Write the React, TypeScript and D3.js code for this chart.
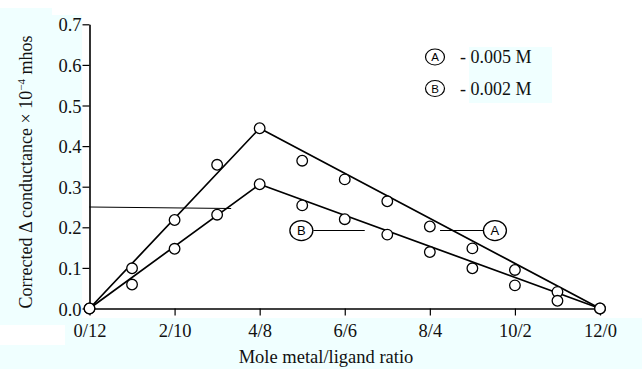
import React, { useEffect, useRef } from 'react';
import * as d3 from 'd3';

// mole of metal in the 12-mole mixture (0..12) and its ratio label
const metalMoles = [0, 1, 2, 3, 4, 5, 6, 7, 8, 9, 10, 11, 12];
const ratioTicks = [0, 2, 4, 6, 8, 10, 12];
const ratioLabels = ['0/12', '2/10', '4/8', '6/6', '8/4', '10/2', '12/0'];
const yTicks = [0, 0.1, 0.2, 0.3, 0.4, 0.5, 0.6, 0.7];

// corrected conductance (x 10^-4 mhos)
const seriesA = [0, 0.099, 0.218, 0.354, 0.444, 0.364, 0.318, 0.264, 0.202, 0.148, 0.095, 0.041, 0];
const seriesB = [0, 0.059, 0.147, 0.231, 0.306, 0.254, 0.22, 0.182, 0.139, 0.099, 0.057, 0.019, 0];

// straight fitted lines through the break point
const fitA: [number, number][] = [[0, 0], [4, 0.444], [12, 0]];
const fitB: [number, number][] = [[0, 0], [4, 0.306], [12, 0]];

// stray horizontal rule in the scan
const strayRule = { y: 0.25, x0: 0, x1: 3.33 };

// curve callouts: label position and leader end
const callouts = [
  { key: 'B', x: 4.98, y: 0.192, lx0: 5.26, lx1: 6.47 },
  { key: 'A', x: 9.53, y: 0.192, lx0: 8.24, lx1: 9.25 },
];

const legendItems = [
  { key: 'A', label: '0.005 M' },
  { key: 'B', label: '0.002 M' },
];

const W = 642;
const H = 369;
const BG = '#f0ffff';
const serif = '"Liberation Serif", "DejaVu Serif", serif';
const sans = '"Liberation Sans", Arial, sans-serif';

export default function App() {
  const ref = useRef<SVGSVGElement | null>(null);

  useEffect(() => {
    if (!ref.current) return;
    const svg = d3.select(ref.current);
    svg.selectAll('*').remove();

    const x = d3.scaleLinear().domain([0, 12]).range([89.5, 600]);
    const y = d3.scaleLinear().domain([0, 0.7]).range([308.5, 24.3]);

    svg.append('rect').attr('width', W).attr('height', H).attr('fill', '#fff');

    // pale cyan patches behind the text (from the scan)
    const patches = [
      [0, 8, 52, 317],
      [52, 15, 30, 305],
      [0, 318, 642, 51],
      [469, 47, 83, 56],
    ];
    patches.forEach(([px, py, pw, ph]) =>
      svg.append('rect').attr('x', px).attr('y', py).attr('width', pw).attr('height', ph).attr('fill', BG)
    );
    svg.append('rect').attr('x', 0).attr('y', 325).attr('width', 65).attr('height', 20).attr('fill', '#fff');

    // axes
    const yAxis = svg.append('g')
      .attr('transform', `translate(${x(0)},0)`)
      .call(d3.axisLeft(y).tickValues(yTicks).tickSize(7).tickSizeOuter(0).tickPadding(1)
        .tickFormat(d => d3.format('.1f')(Number(d))));
    yAxis.select('.domain').attr('stroke', '#000').attr('stroke-width', 1.6);
    yAxis.selectAll('.tick line').attr('stroke', '#000').attr('stroke-width', 1.2);
    yAxis.selectAll('.tick text')
      .attr('font-family', serif).attr('font-size', 18.5).attr('fill', '#111').attr('dy', '0.36em');

    const xAxis = svg.append('g')
      .attr('transform', `translate(0,${y(0)})`)
      .call(d3.axisBottom(x).tickValues(ratioTicks).tickSize(7).tickSizeOuter(0).tickPadding(8)
        .tickFormat((d, i) => ratioLabels[i]));
    xAxis.select('.domain').attr('stroke', '#000').attr('stroke-width', 1.4);
    xAxis.selectAll('.tick line').attr('stroke', '#000').attr('stroke-width', 1.2);
    xAxis.selectAll('.tick text')
      .attr('font-family', serif).attr('font-size', 18.5).attr('fill', '#111');

    // axis titles
    svg.append('text')
      .attr('x', 326).attr('y', 363)
      .attr('text-anchor', 'middle')
      .attr('font-family', serif).attr('font-size', 18.5).attr('fill', '#111')
      .text('Mole metal/ligand ratio');

    const yt = svg.append('text')
      .attr('transform', 'translate(32,172) rotate(-90)')
      .attr('text-anchor', 'middle')
      .attr('font-family', serif).attr('font-size', 18).attr('fill', '#111');
    yt.append('tspan').text('Corrected Δ conductance × 10');
    yt.append('tspan').attr('dy', -7).attr('font-size', 11).text('−4');
    yt.append('tspan').attr('dy', 7).text(' mhos');

    // stray rule
    svg.append('line')
      .attr('x1', x(strayRule.x0)).attr('x2', x(strayRule.x1))
      .attr('y1', y(strayRule.y)).attr('y2', y(strayRule.y) + 1.5)
      .attr('stroke', '#000').attr('stroke-width', 1);

    // fitted lines
    const line = d3.line<[number, number]>().x(d => x(d[0])).y(d => y(d[1]));
    [fitA, fitB].forEach(f =>
      svg.append('path').attr('d', line(f)).attr('fill', 'none')
        .attr('stroke', '#000').attr('stroke-width', 1.7).attr('stroke-linejoin', 'round')
    );

    // points
    [seriesA, seriesB].forEach(s =>
      svg.append('g').selectAll('circle')
        .data(metalMoles)
        .join('circle')
        .attr('cx', d => x(d)).attr('cy', (d, i) => y(s[i]))
        .attr('r', 5.3)
        .attr('fill', '#fff').attr('stroke', '#000').attr('stroke-width', 1.3)
    );

    // callouts on the curves
    callouts.forEach(c => {
      svg.append('line')
        .attr('x1', x(c.lx0)).attr('x2', x(c.lx1))
        .attr('y1', y(c.y)).attr('y2', y(c.y))
        .attr('stroke', '#000').attr('stroke-width', 1.1);
      svg.append('ellipse')
        .attr('cx', x(c.x)).attr('cy', y(c.y)).attr('rx', 11.5).attr('ry', 10)
        .attr('fill', '#fff').attr('stroke', '#000').attr('stroke-width', 1.3);
      svg.append('text')
        .attr('x', x(c.x)).attr('y', y(c.y)).attr('dy', '0.36em')
        .attr('text-anchor', 'middle')
        .attr('font-family', sans).attr('font-size', 13).attr('fill', '#000')
        .text(c.key);
    });

    // legend
    const lg = svg.append('g');
    legendItems.forEach((it, i) => {
      const cy = 57 + i * 31.5;
      lg.append('ellipse')
        .attr('cx', 435).attr('cy', cy).attr('rx', 9.5).attr('ry', 8)
        .attr('fill', 'none').attr('stroke', '#000').attr('stroke-width', 1.2);
      lg.append('text')
        .attr('x', 435).attr('y', cy).attr('dy', '0.36em')
        .attr('text-anchor', 'middle')
        .attr('font-family', sans).attr('font-size', 11.5).attr('fill', '#000')
        .text(it.key);
      lg.append('text')
        .attr('x', 460).attr('y', cy + 6)
        .attr('font-family', serif).attr('font-size', 18).attr('fill', '#111')
        .text(`- ${it.label}`);
    });
  }, []);

  return (
    <svg
      ref={ref}
      width={W}
      height={H}
      style={{ position: 'absolute', left: 0, top: 0, display: 'block' }}
    />
  );
}
